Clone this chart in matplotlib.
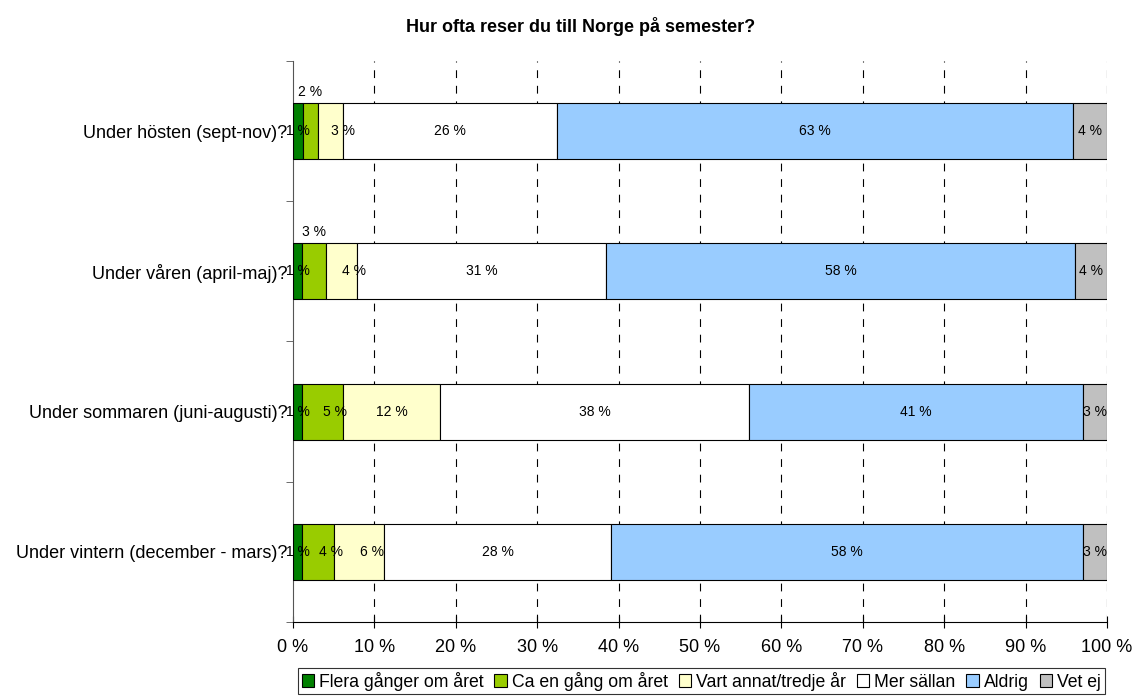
import numpy as np
import matplotlib.pyplot as plt

plt.rcParams['font.family'] = ['Liberation Sans', 'DejaVu Sans']

# Data (share in %, top to bottom)
categories = ['Under hösten (sept-nov)?', 'Under våren (april-maj)?',
              'Under sommaren (juni-augusti)?', 'Under vintern (december - mars)?']
series_names = ['Flera gånger om året', 'Ca en gång om året', 'Vart annat/tredje år',
                'Mer sällan', 'Aldrig', 'Vet ej']
flera = [1.2, 1.1, 1.1, 1.1]
ca_en = [1.9, 2.9, 5.0, 3.9]
vart_annat = [3.0, 3.9, 12.0, 6.2]
mer_sallan = [26.3, 30.6, 37.9, 27.9]
aldrig = [63.4, 57.6, 41.0, 57.9]
vet_ej = [4.2, 3.9, 3.0, 3.0]
colors = ['#008000', '#99CC00', '#FFFFCC', '#FFFFFF', '#99CCFF', '#C0C0C0']

values = [flera, ca_en, vart_annat, mer_sallan, aldrig, vet_ej]

fig, ax = plt.subplots(figsize=(11.33, 6.97), dpi=100)
fig.subplots_adjust(left=0.2586, right=0.977, top=0.9125, bottom=0.1076)

y = np.arange(len(categories))
left = np.zeros(len(categories))
for k, (name, vals, col) in enumerate(zip(series_names, values, colors)):
    vals = np.array(vals)
    ax.barh(y, vals, left=left, height=0.4, color=col, edgecolor='black',
            linewidth=0.8, label=name, zorder=3)
    for i, v in enumerate(vals):
        xc = left[i] + v / 2
        # small green segments get their label above the bar
        if k == 1 and v < 3.5:
            ax.text(xc, y[i] - 0.28, f'{v:.0f} %', ha='center', va='center',
                    fontsize=10, zorder=4)
        else:
            # narrow green/yellow segments: label nudged right, like the original
            nudge = 1.6 if k in (1, 2) and v < 7 else 0
            ax.text(xc + nudge, y[i], f'{v:.0f} %', ha='center', va='center',
                    fontsize=10, zorder=4)
    left += vals

ax.set_xlim(0, 100)
ax.set_ylim(len(categories) - 0.5, -0.5)
ax.set_xticks(np.arange(0, 101, 10))
ax.set_xticklabels([f'{t} %' for t in range(0, 101, 10)], fontsize=13)
ax.tick_params(axis='x', direction='inout', length=8, pad=8)
ax.set_yticks(y)
ax.set_yticklabels(categories, fontsize=13)
ax.tick_params(axis='y', length=0, pad=4)
ax.set_yticks(np.arange(-0.5, len(categories), 1), minor=True)
ax.tick_params(axis='y', which='minor', length=5, color='#555555')

for xv in range(10, 101, 10):
    ax.axvline(xv, color='black', linestyle=(0, (7, 7)), linewidth=0.8, zorder=1)

ax.spines['top'].set_visible(False)
ax.spines['right'].set_visible(False)
ax.spines['left'].set_color('#555555')

fig.text(0.512, 1 - 27 / 697, 'Hur ofta reser du till Norge på semester?',
         fontsize=13, fontweight='bold', ha='center', va='center')

leg = fig.legend(loc='lower center', bbox_to_anchor=(0.619, 0.0), ncol=6,
                 fontsize=12.7, frameon=True, fancybox=False, edgecolor='black',
                 handlelength=0.7, handleheight=0.7, handletextpad=0.3,
                 columnspacing=0.6, borderpad=0.2, borderaxespad=0.15)
leg.get_frame().set_linewidth(0.8)

fig.savefig('out.png', dpi=100)
